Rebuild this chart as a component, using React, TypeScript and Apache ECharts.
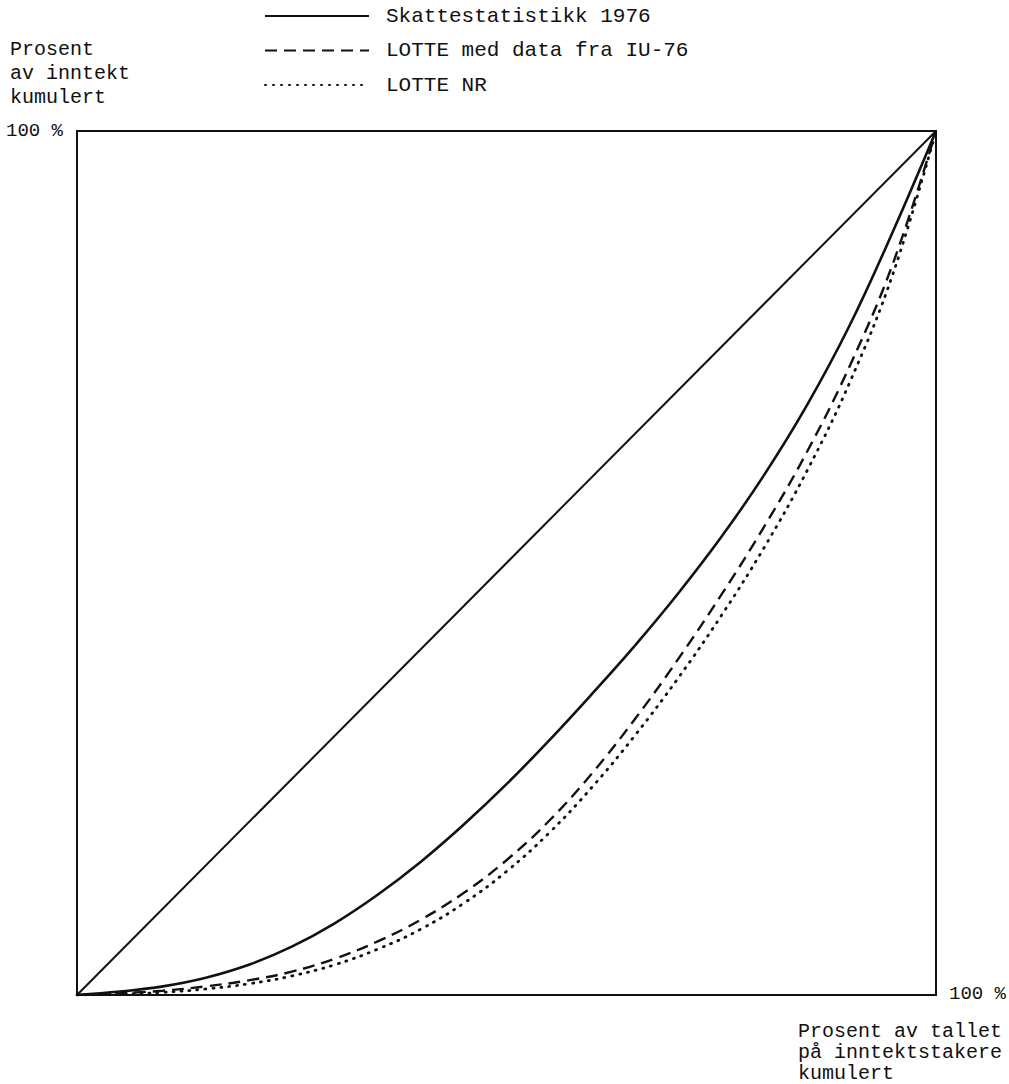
import React, { useEffect, useRef } from "react";
import * as echarts from "echarts";

// Lorenz-curve data: [cumulative % of income earners, cumulative % of income]
const diagonal: number[][] = [
  [0, 0],
  [100, 100],
];

const shares: number[] = [0, 5, 10, 15, 20, 25, 30, 35, 40, 45, 50, 55, 60, 65, 70, 75, 80, 85, 90, 95, 100];

const skattestatistikk: number[] = [
  0, 0.4, 1.0, 2.0, 3.5, 5.6, 8.3, 11.6, 15.4, 19.7, 24.4,
  29.5, 34.9, 40.5, 46.5, 53.0, 60.2, 68.3, 77.6, 88.4, 100,
];

const lotteIU76: number[] = [
  0, 0.2, 0.5, 1.0, 1.7, 2.7, 4.2, 6.2, 8.7, 11.8, 15.6,
  20.2, 25.7, 32.0, 38.9, 46.3, 54.2, 62.9, 72.9, 84.7, 100,
];

const lotteNR: number[] = [
  0, 0.1, 0.3, 0.7, 1.3, 2.2, 3.5, 5.3, 7.6, 10.6, 14.3,
  18.8, 24.1, 30.1, 36.7, 43.9, 51.8, 60.7, 71.0, 83.5, 100,
];

const seriesNames = ["Skattestatistikk 1976", "LOTTE med data fra IU-76", "LOTTE NR"];
const yTitle = ["Prosent", "av inntekt", "kumulert"];
const xTitle = ["Prosent av tallet", "på inntektstakere", "kumulert"];
const axisMaxLabel = "100 %";

const FONT = "'Liberation Mono', 'DejaVu Sans Mono', monospace";
const INK = "#111";

const pairs = (ys: number[]) => ys.map((y, i) => [shares[i], y]);

export default function App() {
  const ref = useRef<HTMLDivElement>(null);

  useEffect(() => {
    if (!ref.current) return;
    const chart = echarts.init(ref.current, null, { renderer: "svg" });
    chart.setOption({
      animation: false,
      backgroundColor: "#fff",
      legend: {
        orient: "vertical",
        left: 264,
        top: 4,
        padding: 0,
        data: seriesNames,
        itemWidth: 104,
        itemHeight: 14,
        itemGap: 10.5,
        itemStyle: { opacity: 0, borderWidth: 0 },
        textStyle: {
          fontFamily: FONT,
          fontSize: 21,
          color: INK,
          lineHeight: 22,
          padding: [2, 0, 0, 12],
        },
        selectedMode: false,
      },
      grid: {
        left: 77,
        top: 131,
        width: 860,
        height: 864,
        show: true,
        borderColor: INK,
        borderWidth: 2,
      },
      xAxis: {
        type: "value",
        min: 0,
        max: 100,
        interval: 100,
        axisLine: { show: true, lineStyle: { color: INK, width: 2 } },
        axisTick: { show: false },
        splitLine: { show: false },
        axisLabel: {
          showMinLabel: false,
          showMaxLabel: true,
          formatter: (v: number) => (v === 100 ? axisMaxLabel : ""),
          align: "left",
          verticalAlign: "middle",
          margin: -1,
          padding: [0, 0, 0, 13],
          fontFamily: FONT,
          fontSize: 19,
          color: INK,
        },
      },
      yAxis: {
        type: "value",
        min: 0,
        max: 100,
        interval: 100,
        axisLine: { show: true, lineStyle: { color: INK, width: 2 } },
        axisTick: { show: false },
        splitLine: { show: false },
        axisLabel: {
          showMinLabel: false,
          showMaxLabel: true,
          formatter: (v: number) => (v === 100 ? axisMaxLabel : ""),
          margin: 14,
          verticalAlign: "middle",
          fontFamily: FONT,
          fontSize: 19,
          color: INK,
        },
      },
      graphic: [
        {
          type: "text",
          left: 10,
          top: 37,
          style: {
            text: yTitle.join("\n"),
            fontFamily: FONT,
            fontSize: 20,
            lineHeight: 24,
            fill: INK,
          },
        },
        {
          type: "text",
          left: 798,
          top: 1021,
          style: {
            text: xTitle.join("\n"),
            fontFamily: FONT,
            fontSize: 20,
            lineHeight: 21,
            fill: INK,
          },
        },
      ],
      series: [
        {
          name: "diagonal",
          type: "line",
          data: diagonal,
          symbol: "none",
          lineStyle: { color: INK, width: 2 },
          silent: true,
        },
        {
          name: seriesNames[0],
          type: "line",
          data: pairs(skattestatistikk),
          smooth: 0.4,
          symbol: "none",
          lineStyle: { color: INK, width: 2.6 },
          itemStyle: { color: INK },
        },
        {
          name: seriesNames[1],
          type: "line",
          data: pairs(lotteIU76),
          smooth: 0.4,
          symbol: "none",
          lineStyle: { color: INK, width: 2.4, type: [12, 7] },
          itemStyle: { color: INK },
        },
        {
          name: seriesNames[2],
          type: "line",
          data: pairs(lotteNR),
          smooth: 0.4,
          symbol: "none",
          lineStyle: { color: INK, width: 2.8, type: [1, 7], cap: "round" },
          itemStyle: { color: INK },
        },
      ],
    });
    return () => chart.dispose();
  }, []);

  return <div ref={ref} style={{ width: 1009, height: 1084, position: "absolute", left: 0, top: 0 }} />;
}
